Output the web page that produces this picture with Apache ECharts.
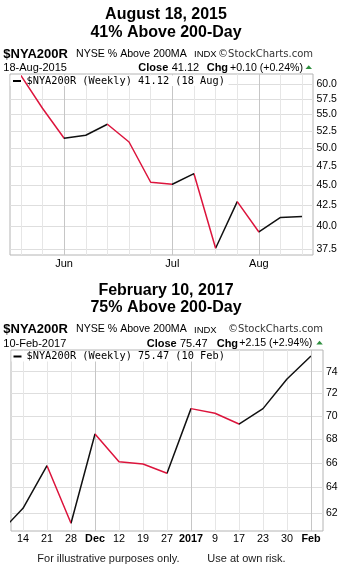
<!DOCTYPE html>
<html><head><meta charset="utf-8">
<script src="https://cdn.jsdelivr.net/npm/echarts@6/dist/echarts.min.js"></script>
<style>html,body{margin:0;padding:0;background:#fff}#c{width:343px;height:573px}</style>
</head><body><div id="c"></div>
<script>
// ---- data ----
const topWeekLabels = ['', '', 'Jun', '', '', '', '', 'Jul', '', '', '', 'Aug', '', ''];
const topValues = [61.5, 55.99, 51.40, 51.85, 53.49, 50.86, 45.35, 45.09, 46.47, 37.58, 42.91, 39.36, 41.02, 41.12];
const topTicks = [37.5, 40, 42.5, 45, 47.5, 50, 52.5, 55, 57.5, 60];
const topMonthIdx = [2, 7, 11];

const bottomWeekLabels = ['14', '21', '28', 'Dec', '12', '19', '27', '2017', '9', '17', '23', '30', 'Feb'];
const bottomBoldLabels = ['Dec', '2017', 'Feb'];
const bottomValues = [60.4, 62.35, 65.77, 61.19, 68.44, 66.10, 65.91, 65.15, 70.65, 70.24, 69.30, 70.65, 73.32, 75.47];
const bottomTicks = [62, 64, 66, 68, 70, 72, 74];
const bottomMonthIdx = [4, 8, 13];

const RED = '#dc143c';
const FONT = '"Liberation Sans", Arial, sans-serif';

function pieces(vals) {
  const p = [];
  for (let i = 0; i < vals.length - 1; i++) {
    const c = vals[i + 1] < vals[i] ? RED : '#111';
    p.push(i === 0 ? { gte: i, lte: i + 1, color: c } : { gt: i, lte: i + 1, color: c });
  }
  return p;
}
function markLines(ticks, fmt, idxFrom, idxTo, darkIdx, dist) {
  const d = [];
  ticks.forEach(t => d.push({ yAxis: t, lineStyle: { color: '#dedede' },
    label: { show: true, position: 'end', distance: dist, formatter: fmt(t), color: '#000', fontSize: 10.5, fontFamily: FONT } }));
  for (let i = idxFrom; i <= idxTo; i++) {
    d.push({ xAxis: i, lineStyle: { color: darkIdx.includes(i) ? '#c6c6c6' : '#e6e6e6' }, label: { show: false } });
  }
  return { silent: true, symbol: ['none', 'none'], z: 1, animation: false,
    lineStyle: { type: 'solid', width: 1 }, emphasis: { disabled: true }, data: d };
}
function txt(x, y, text, font, fill, align) {
  return { type: 'text', x: x, y: y, z: 5,
    style: { text: text, font: font, fill: fill || '#000', textAlign: align || 'left', textVerticalAlign: 'middle',
             align: align || 'left', verticalAlign: 'middle' } };
}
function header(dy, right, title1, title2, date, close, chg, legend, closeX, valX, chgX, chgTxtX, triX) {
  return [
    txt(166, 15 + dy, title1, 'bold 16px ' + FONT, '#000', 'center'),
    txt(166, 32.5 + dy, title2, 'bold 16px ' + FONT, '#000', 'center'),
    txt(3.3, 54 + dy, '$NYA200R', 'bold 13px ' + FONT),
    txt(76, 54 + dy, 'NYSE % Above 200MA', '10.6px ' + FONT),
    txt(194, 54.5 + dy, 'INDX', '9.5px ' + FONT),
    txt(right, 54 + dy, '\u00A9StockCharts.com', '10px "DejaVu Sans", Verdana, sans-serif', '#333', 'right'),
    txt(3.3, 68 + dy, date, '11px ' + FONT),
    txt(closeX, 68 + dy, 'Close', 'bold 11px ' + FONT),
    txt(valX, 68 + dy, close, '11px ' + FONT),
    txt(chgX, 68 + dy, 'Chg', 'bold 11px ' + FONT),
    txt(chgTxtX, 68 + dy, chg, '10.6px ' + FONT),
    { type: 'polygon', z: 5, shape: { points: [[triX, 69 + dy], [triX + 6.5, 69 + dy], [triX + 3.25, 65.3 + dy]] }, style: { fill: '#2f8f3f' } },
    { type: 'rect', z: 2, shape: { x: 0, y: 75.5 + dy, width: 218, height: 10.5 }, style: { fill: '#fff' } },
    { type: 'rect', z: 5, shape: { x: 0, y: 80 + dy, width: 8, height: 2 }, style: { fill: '#000' } },
    txt(14, 81 + dy, legend, '10.3px "DejaVu Sans Mono", monospace')
  ];
}

const topHeader = header(0, 313, 'August 18, 2015', '41% Above 200-Day', '18-Aug-2015', '41.12', '+0.10 (+0.24%)',
  '$NYA200R (Weekly) 41.12 (18 Aug)', 138.3, 171.7, 206.7, 230, 305.5);
const botHeader = header(275.5, 323, 'February 10, 2017', '75% Above 200-Day', '10-Feb-2017', '75.47', '+2.15 (+2.94%)',
  '$NYA200R (Weekly) 75.47 (10 Feb)', 146.7, 180, 216.7, 239.3, 316.3);
// shift legend pieces horizontally to plot left edges
topHeader[12].shape.x = 10.5; topHeader[13].shape.x = 13; topHeader[14].x = 26.5;
botHeader[12].shape.x = 11.5; botHeader[13].shape.x = 13.5; botHeader[14].x = 26.5;

const chart = echarts.init(document.getElementById('c'), null, { renderer: 'canvas' });
chart.setOption({
  animation: false,
  backgroundColor: '#fff',
  grid: [
    { left: 10, top: 74, width: 303, height: 181, show: true, borderColor: '#b4b4b4', borderWidth: 1, backgroundColor: 'transparent' },
    { left: 11, top: 350, width: 312, height: 181, show: true, borderColor: '#b4b4b4', borderWidth: 1, backgroundColor: 'transparent' }
  ],
  xAxis: [
    { type: 'category', gridIndex: 0, data: topWeekLabels, boundaryGap: true,
      axisLine: { show: false }, axisTick: { show: false }, splitLine: { show: false },
      axisLabel: { interval: 0, margin: 3, color: '#000', fontSize: 11, fontFamily: FONT } },
    { type: 'value', gridIndex: 0, min: -0.5, max: 13.5, show: false, splitLine: { show: false } },
    { type: 'category', gridIndex: 1, data: bottomWeekLabels, boundaryGap: true,
      axisLine: { show: false }, axisTick: { show: false }, splitLine: { show: false },
      axisLabel: { interval: 0, margin: 3, color: '#000', fontSize: 10.8, fontFamily: FONT,
        formatter: v => bottomBoldLabels.includes(v) ? '{b|' + v + '}' : v,
        rich: { b: { fontWeight: 'bold', fontSize: 10.8, fontFamily: FONT, color: '#000' } } } },
    { type: 'value', gridIndex: 1, min: 0.5, max: 13.5, show: false, splitLine: { show: false } }
  ],
  yAxis: [
    { type: 'log', gridIndex: 0, min: 36.86, max: 61.73, show: false, splitLine: { show: false } },
    { type: 'log', gridIndex: 1, min: 60.60, max: 76.04, show: false, splitLine: { show: false } }
  ],
  visualMap: [
    { type: 'piecewise', show: false, seriesIndex: 0, dimension: 0, pieces: pieces(topValues) },
    { type: 'piecewise', show: false, seriesIndex: 1, dimension: 0, pieces: pieces(bottomValues) }
  ],
  series: [
    { type: 'line', xAxisIndex: 1, yAxisIndex: 0, z: 3, symbol: 'none', showSymbol: false, clip: true,
      lineStyle: { width: 1.5 }, data: topValues.map((v, i) => [i, v]),
      markLine: markLines(topTicks, t => t.toFixed(1), 0, 13, topMonthIdx, 3.5) },
    { type: 'line', xAxisIndex: 3, yAxisIndex: 1, z: 3, symbol: 'none', showSymbol: false, clip: true,
      lineStyle: { width: 1.5 }, data: bottomValues.map((v, i) => [i, v]),
      markLine: markLines(bottomTicks, t => String(t), 1, 13, bottomMonthIdx, 3) }
  ],
  graphic: { elements: topHeader.concat(botHeader).concat([
    txt(37.3, 559, 'For illustrative purposes only.', '11px ' + FONT, '#1a1a1a'),
    txt(207.3, 559, 'Use at own risk.', '11px ' + FONT, '#1a1a1a')
  ]) }
});
</script></body></html>
